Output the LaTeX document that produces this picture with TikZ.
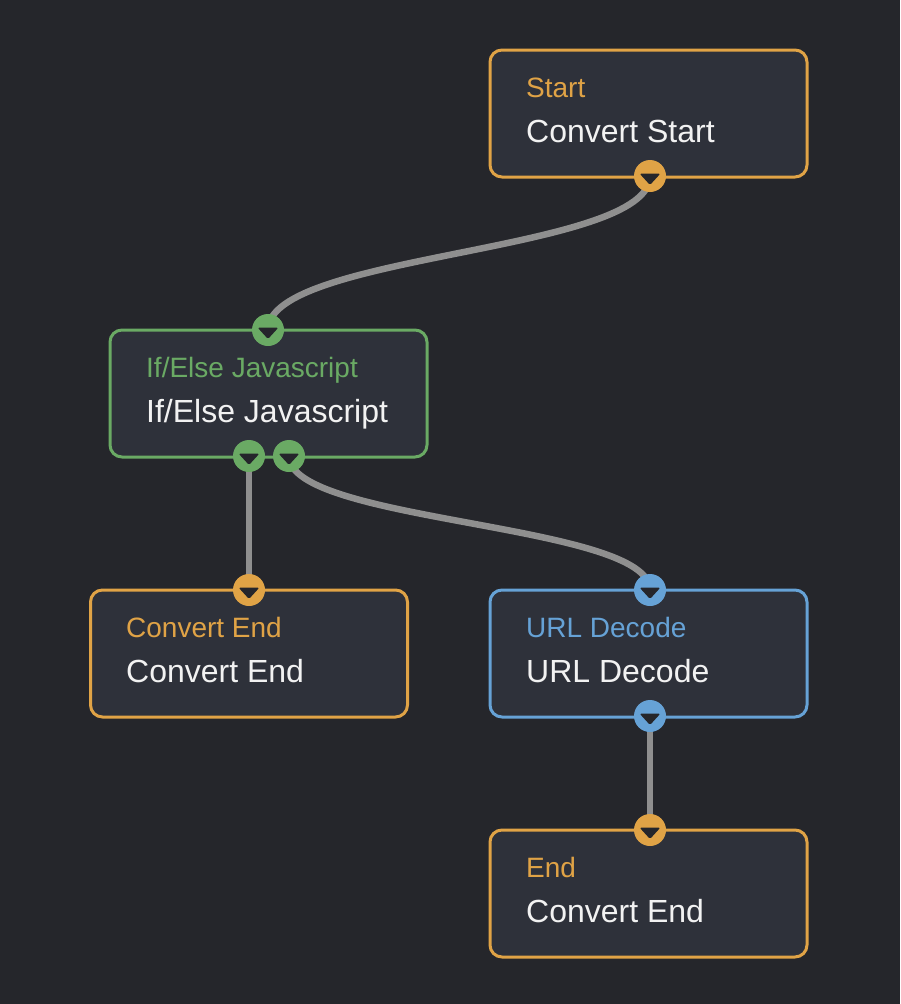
\documentclass[tikz,border=0pt]{standalone}
\usepackage{fontspec}
\setmainfont{Liberation Sans}
\definecolor{bg}{HTML}{25262B}
\definecolor{card}{HTML}{2E313A}
\definecolor{corange}{HTML}{E0A346}
\definecolor{cgreen}{HTML}{6AAA64}
\definecolor{cblue}{HTML}{66A2D6}
\definecolor{wire}{HTML}{8F8F8F}
\definecolor{txt}{HTML}{F2F2F2}
\tikzset{
  cardbox/.style={draw=#1, fill=card, line width=3pt, rounded corners=12pt,
    rectangle, minimum width=317pt, minimum height=127pt, inner sep=0pt},
  ttl/.style={anchor=base west, text=#1, font=\fontsize{28}{30}\selectfont, inner sep=0pt},
  mtxt/.style={anchor=base west, text=txt, font=\fontsize{32}{34}\selectfont, inner sep=0pt},
  port/.style={circle, fill=#1, minimum size=32pt, inner sep=0pt,
    path picture={\fill[bg, rounded corners=1.5pt]
      ($(path picture bounding box.center)+(-10.5pt,2.5pt)$) --
      ($(path picture bounding box.center)+(10.5pt,2.5pt)$) --
      ($(path picture bounding box.center)+(0pt,-9pt)$) -- cycle;}},
  wireline/.style={draw=wire, line width=6.5pt},
}
\usetikzlibrary{calc}
\begin{document}
\begin{tikzpicture}[x=1pt,y=-1pt]
\fill[bg] (0,0) rectangle (900,1004);
\useasboundingbox (0,0) rectangle (900,1004);
% cards
\node[cardbox=corange] (start) at (648.5,113.5) {};
\node[cardbox=cgreen] (ifelse) at (268.5,393.5) {};
\node[cardbox=corange] (cend) at (249,653.5) {};
\node[cardbox=cblue] (url) at (648.5,653.5) {};
\node[cardbox=corange] (end) at (648.5,893.5) {};
% texts
\node[ttl=corange] (t1) at (526,97.5) {Start};
\node[mtxt] (m1) at (526,142.5) {Convert Start};
\node[ttl=cgreen] (t2) at (146,377.5) {If/Else Javascript};
\node[mtxt] (m2) at (146,422.5) {If/Else Javascript};
\node[ttl=corange] (t3) at (126,637.5) {Convert End};
\node[mtxt] (m3) at (126,682.5) {Convert End};
\node[ttl=cblue] (t4) at (526,637.5) {URL Decode};
\node[mtxt] (m4) at (526,682.5) {URL Decode};
\node[ttl=corange] (t5) at (526,877.5) {End};
\node[mtxt] (m5) at (526,922.5) {Convert End};
% port coordinates
\coordinate (pso) at (650,176);
\coordinate (pii) at (268,330);
\coordinate (po1) at (249,456);
\coordinate (po2) at (289,456);
\coordinate (pci) at (249,590);
\coordinate (pui) at (650,590);
\coordinate (puo) at (650,716);
\coordinate (pei) at (650,830);
% wires
\draw[wireline] (pso) .. controls +(0,77) and +(0,-77) .. (pii);
\draw[wireline] (po1) -- (pci);
\draw[wireline] (po2) .. controls +(0,67) and +(0,-67) .. (pui);
\draw[wireline] (puo) -- (pei);
% ports
\node[port=corange] (qso) at (pso) {};
\node[port=cgreen] (qii) at (pii) {};
\node[port=cgreen] (qo1) at (po1) {};
\node[port=cgreen] (qo2) at (po2) {};
\node[port=corange] (qci) at (pci) {};
\node[port=cblue] (qui) at (pui) {};
\node[port=cblue] (quo) at (puo) {};
\node[port=corange] (qei) at (pei) {};
\end{tikzpicture}
\end{document}
